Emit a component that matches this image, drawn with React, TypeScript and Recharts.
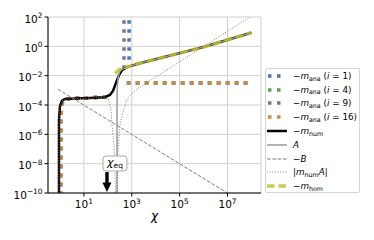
import React from "react";
import {
  ComposedChart,
  Line,
  XAxis,
  YAxis,
  CartesianGrid,
  ReferenceDot,
  Legend,
} from "recharts";

const X_DOMAIN: [number, number] = [10 ** -0.5, 10 ** 8.4];
const Y_DOMAIN: [number, number] = [1e-10, 1e2];
const X_TICKS = [1e1, 1e3, 1e5, 1e7];
const Y_TICKS = [1e-10, 1e-8, 1e-6, 1e-4, 1e-2, 1, 1e2];
const CHI_EQ = 92;

type Pair = [number, number | null];

// shared upper branch (m_num, A and m_hom lie on top of each other)
const upperBranch: Pair[] = [
  [867, 4.5e-2],
  [2.6e3, 7.6e-2],
  [8.9e3, 0.125],
  [9.1e4, 0.33],
  [9.4e5, 0.88],
  [9.6e6, 2.7],
  [1e8, 8.6],
];

const mNumLow: Pair[] = [
  [0.91, 1e-12],
  [0.91, 9.5e-6],
  [1.0, 8.5e-5],
  [1.21, 1.9e-4],
  [1.62, 2.55e-4],
  [4.1, 2.75e-4],
  [17, 2.95e-4],
  [76, 3.4e-4],
  [122, 4.8e-4],
  [164, 9e-4],
  [219, 3.2e-3],
  [293, 1.1e-2],
  [390, 2.4e-2],
  [574, 3.5e-2],
];

const aLow: Pair[] = [
  [242, 1e-12],
  [242, 1e-4],
  [249, 2e-3],
  [272, 9e-3],
  [320, 1.9e-2],
  [398, 2.7e-2],
  [574, 3.5e-2],
];

const mHomLow: Pair[] = [
  [206, 1.4e-2],
  [249, 2.1e-2],
  [327, 2.8e-2],
  [475, 3.5e-2],
];

const minusB: Pair[] = [
  [0.82, 1.2e-3],
  [1e8, 9.84e-12],
];

const mNumA: Pair[] = [
  [0.91, 1e-12],
  [0.91, 9.5e-6],
  [1.0, 8.5e-5],
  [1.21, 1.9e-4],
  [1.62, 2.55e-4],
  [4.1, 2.75e-4],
  [17, 2.95e-4],
  [76, 3.3e-4],
  [102, 3e-4],
  [136, 4.6e-5],
  [150, 4.4e-6],
  [181, 1.9e-7],
  [211, 1e-10],
  [214, 1e-12],
  [249, 1e-12],
  [265, 8.5e-8],
  [323, 4.4e-6],
  [431, 3.3e-5],
  [614, 2.2e-4],
  [867, 4.5e-4],
  [1750, 1.3e-3],
  [8.9e3, 7.2e-3],
  [9.1e4, 8.1e-2],
  [9.4e5, 0.91],
  [9.6e6, 10.2],
  [1e8, 115],
];

// analytic series: low-chi plateau, pole, high-chi plateau
const anaPlateau: Pair[] = [
  [1.1, 1e-12],
  [1.1, 1e-5],
  [1.17, 1e-4],
  [1.37, 2e-4],
  [1.86, 2.6e-4],
  [4.1, 2.9e-4],
  [16.6, 3.1e-4],
  [76, 3.4e-4],
  [119, 3.8e-4],
  [170, null],
];
const anaHigh: Pair[] = [
  [622, 3.2e-3],
  [1e8, 3.2e-3],
];
const pole1: Pair[] = [
  [770, 1e3],
  [770, 6e-2],
  [800, null],
];
const pole9: Pair[] = [
  [475, 1e3],
  [475, 2.5e-2],
  [520, null],
];

const toPts = (pairs: Pair[]) => pairs.map(([x, y]) => ({ x, y }));

const dataAna1 = toPts([...anaPlateau, ...pole1, ...anaHigh]);
const dataAna4 = toPts([...anaPlateau, ...anaHigh]);
const dataAna9 = toPts([...anaPlateau, ...pole9, ...anaHigh]);
const dataAna16 = toPts([...anaPlateau, ...anaHigh]);
const dataNum = toPts([...mNumLow, ...upperBranch]);
const dataA = toPts([...aLow, ...upperBranch]);
const dataB = toPts(minusB);
const dataNumA = toPts(mNumA);
const dataHom = toPts([...mHomLow, ...upperBranch]);

const DOT = { strokeWidth: 3.5, strokeDasharray: "3.5 5.5" };

const STYLES = {
  ana1: { stroke: "#4a77aa", ...DOT },
  ana4: { stroke: "#5e9e50", ...DOT },
  ana9: { stroke: "#8a6a9a", ...DOT },
  ana16: { stroke: "#d4883a", ...DOT },
  num: { stroke: "#000", strokeWidth: 2.5 },
  a: { stroke: "#9a9a9a", strokeWidth: 1.5 },
  b: { stroke: "#808080", strokeWidth: 1, strokeDasharray: "3.7 1.6" },
  numA: { stroke: "#808080", strokeWidth: 1, strokeDasharray: "1 1.65" },
  hom: {
    stroke: "#bcbd22",
    strokeOpacity: 0.8,
    strokeWidth: 3.5,
    strokeDasharray: "7.5 4",
  },
};

const sub = (t: string) => (
  <span style={{ fontSize: "0.72em", position: "relative", top: "0.28em" }}>
    {t}
  </span>
);
const anaLabel = (n: number) => (
  <>
    −<i>m</i>
    {sub("ana")} (<i>i</i> = {n})
  </>
);

const LEGEND_ITEMS: { key: keyof typeof STYLES; label: React.ReactNode }[] = [
  { key: "ana1", label: anaLabel(1) },
  { key: "ana4", label: anaLabel(4) },
  { key: "ana9", label: anaLabel(9) },
  { key: "ana16", label: anaLabel(16) },
  { key: "num", label: <>−<i>m</i>{sub("num")}</> },
  { key: "a", label: <i>A</i> },
  { key: "b", label: <>−<i>B</i></> },
  { key: "numA", label: <>|<i>m</i>{sub("num")}<i>A</i>|</> },
  { key: "hom", label: <>−<i>m</i>{sub("hom")}</> },
];

function LegendBox() {
  return (
    <div
      style={{
        width: 95,
        height: 125,
        boxSizing: "border-box",
        border: "1px solid #d5d5d5",
        borderRadius: 2,
        background: "rgba(255,255,255,0.85)",
        fontFamily: "DejaVu Sans",
        fontSize: 8.8,
        color: "#000",
      }}
    >
      {LEGEND_ITEMS.map((it) => {
        const dotted = it.key.startsWith("ana");
        return (
          <div
            key={it.key}
            style={{ height: 13.8, display: "flex", alignItems: "center", whiteSpace: "nowrap" }}
          >
            <svg width={20} height={8} style={{ marginLeft: 1, marginRight: 6, flex: "none" }}>
              <line x1={dotted ? 1 : 0} y1={4} x2={dotted ? 14 : 20} y2={4} {...STYLES[it.key]} />
            </svg>
            <span>{it.label}</span>
          </div>
        );
      })}
    </div>
  );
}

const expText = (v: number) => {
  const e = Math.round(Math.log10(v));
  return e < 0 ? "−" + Math.abs(e) : String(e);
};

function XTick({ x, y, payload }: any) {
  return (
    <text x={x} y={y + 9.5} textAnchor="middle" fontSize={10.5} fill="#000">
      <tspan>10</tspan>
      <tspan dy={-4.5} fontSize={7.4}>
        {expText(payload.value)}
      </tspan>
    </text>
  );
}

function YTick({ x, y, payload }: any) {
  return (
    <text x={x} y={y + 5.5} textAnchor="end" fontSize={10.5} fill="#000">
      <tspan>10</tspan>
      <tspan dy={-4.5} fontSize={7.4}>
        {expText(payload.value)}
      </tspan>
    </text>
  );
}

function ChiLabel({ viewBox }: any) {
  return (
    <text
      x={viewBox.x + viewBox.width / 2}
      y={viewBox.y + 27}
      textAnchor="middle"
      fontSize={12}
      fontStyle="italic"
      fill="#000"
    >
      χ
    </text>
  );
}

function EqMarker({ cx, cy }: any) {
  return (
    <g>
      <rect x={cx - 4} y={cy - 37} width={24} height={15} rx={3} fill="#fff" stroke="#aaa" />
      <text x={cx + 8} y={cy - 27} textAnchor="middle" fontSize={11} fill="#000">
        <tspan fontStyle="italic">χ</tspan>
        <tspan fontSize={7.5} dy={2}>
          eq
        </tspan>
      </text>
      <rect x={cx - 1.7} y={cy - 21} width={3.4} height={11} fill="#000" />
      <polygon points={`${cx - 4.5},${cy - 10.5} ${cx + 4.5},${cy - 10.5} ${cx},${cy - 1}`} fill="#000" />
    </g>
  );
}

const SPINE = { stroke: "#000", strokeWidth: 1 };

export default function App() {
  const line = (data: any[], key: keyof typeof STYLES) => (
    <Line
      key={key}
      data={data}
      dataKey="y"
      type="linear"
      dot={false}
      activeDot={false}
      connectNulls={false}
      isAnimationActive={false}
      strokeLinecap="butt"
      {...STYLES[key]}
    />
  );
  return (
    <div style={{ position: "absolute", left: 0, top: 0, width: 374, height: 240, fontFamily: "DejaVu Sans" }}>
      <ComposedChart width={374} height={240} margin={{ top: 17, right: 113, left: 0, bottom: 0 }}>
        <CartesianGrid stroke="#d0d0d0" strokeWidth={1} />
        <XAxis
          dataKey="x"
          type="number"
          scale="log"
          domain={X_DOMAIN}
          allowDataOverflow
          ticks={X_TICKS}
          interval={0}
          height={47}
          tickSize={3.5}
          axisLine={SPINE}
          tickLine={{ stroke: "#000" }}
          tick={<XTick />}
          label={<ChiLabel />}
        />
        <XAxis
          xAxisId="top"
          orientation="top"
          type="number"
          scale="log"
          domain={X_DOMAIN}
          allowDataOverflow
          height={0}
          tick={false}
          tickLine={false}
          axisLine={SPINE}
        />
        <YAxis
          type="number"
          scale="log"
          domain={Y_DOMAIN}
          allowDataOverflow
          ticks={Y_TICKS}
          interval={0}
          width={48}
          tickSize={3.5}
          axisLine={SPINE}
          tickLine={{ stroke: "#000" }}
          tick={<YTick />}
        />
        <YAxis
          yAxisId="right"
          orientation="right"
          type="number"
          domain={[0, 1]}
          width={0}
          tick={false}
          tickLine={false}
          axisLine={SPINE}
        />
        {line(dataAna1, "ana1")}
        {line(dataAna4, "ana4")}
        {line(dataAna9, "ana9")}
        {line(dataAna16, "ana16")}
        {line(dataNum, "num")}
        {line(dataA, "a")}
        {line(dataB, "b")}
        {line(dataNumA, "numA")}
        {line(dataHom, "hom")}
        <ReferenceDot x={CHI_EQ} y={Y_DOMAIN[0]} r={0} ifOverflow="visible" shape={(p: any) => <EqMarker {...p} />} />
        <Legend
          layout="vertical"
          align="center"
          verticalAlign="middle"
          content={() => <LegendBox />}
          wrapperStyle={{ left: 265, top: 68, width: 95, height: 125 }}
        />
      </ComposedChart>
    </div>
  );
}
